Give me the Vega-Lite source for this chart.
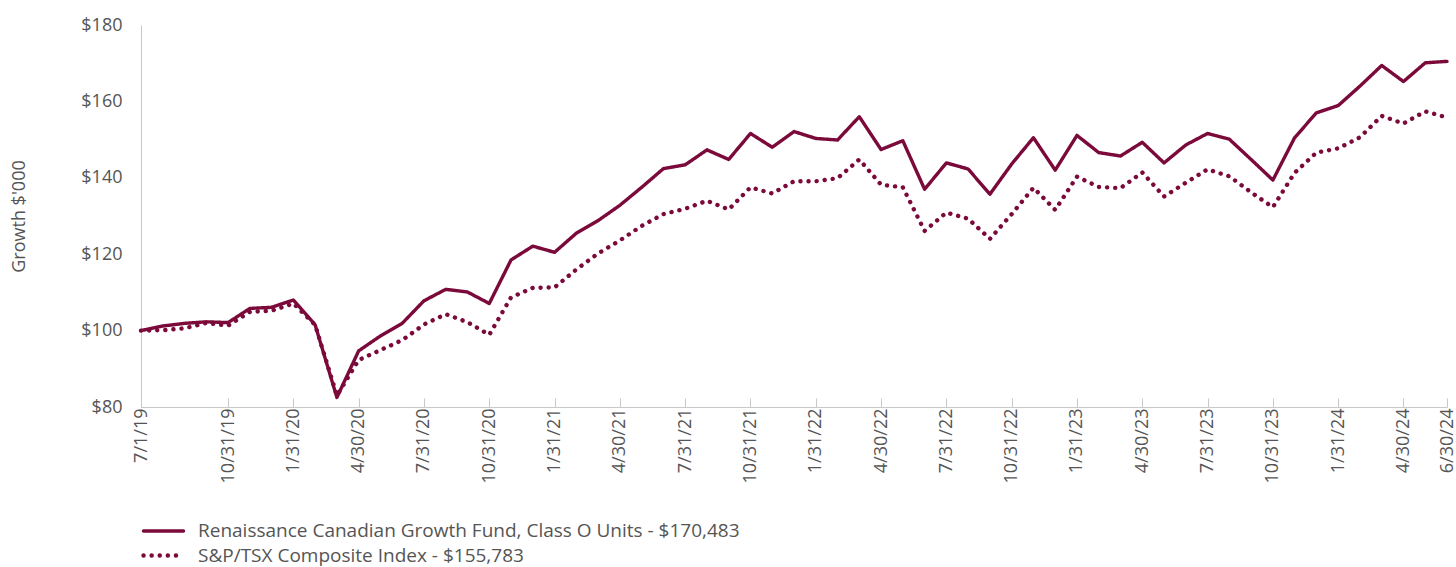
{
  "$schema": "https://vega.github.io/schema/vega-lite/v6.json",
  "width": 1306,
  "height": 382,
  "autosize": {"type": "none"},
  "padding": {"left": 141, "top": 25, "right": 9, "bottom": 160},
  "config": {"view": {"stroke": null}, "font": "Open Sans", "background": "white"},
  "datasets": {
    "growth": [
      {"date": "7/1/19", "series": "Renaissance Canadian Growth Fund, Class O Units - $170,483", "value": 100},
      {"date": "7/31/19", "series": "Renaissance Canadian Growth Fund, Class O Units - $170,483", "value": 101.2},
      {"date": "8/31/19", "series": "Renaissance Canadian Growth Fund, Class O Units - $170,483", "value": 101.9},
      {"date": "9/30/19", "series": "Renaissance Canadian Growth Fund, Class O Units - $170,483", "value": 102.3},
      {"date": "10/31/19", "series": "Renaissance Canadian Growth Fund, Class O Units - $170,483", "value": 102.1},
      {"date": "11/30/19", "series": "Renaissance Canadian Growth Fund, Class O Units - $170,483", "value": 105.8},
      {"date": "12/31/19", "series": "Renaissance Canadian Growth Fund, Class O Units - $170,483", "value": 106.1},
      {"date": "1/31/20", "series": "Renaissance Canadian Growth Fund, Class O Units - $170,483", "value": 108.0},
      {"date": "2/29/20", "series": "Renaissance Canadian Growth Fund, Class O Units - $170,483", "value": 101.5},
      {"date": "3/31/20", "series": "Renaissance Canadian Growth Fund, Class O Units - $170,483", "value": 82.5},
      {"date": "4/30/20", "series": "Renaissance Canadian Growth Fund, Class O Units - $170,483", "value": 94.7},
      {"date": "5/31/20", "series": "Renaissance Canadian Growth Fund, Class O Units - $170,483", "value": 98.6},
      {"date": "6/30/20", "series": "Renaissance Canadian Growth Fund, Class O Units - $170,483", "value": 101.9},
      {"date": "7/31/20", "series": "Renaissance Canadian Growth Fund, Class O Units - $170,483", "value": 107.8},
      {"date": "8/31/20", "series": "Renaissance Canadian Growth Fund, Class O Units - $170,483", "value": 110.8},
      {"date": "9/30/20", "series": "Renaissance Canadian Growth Fund, Class O Units - $170,483", "value": 110.1},
      {"date": "10/31/20", "series": "Renaissance Canadian Growth Fund, Class O Units - $170,483", "value": 107.1},
      {"date": "11/30/20", "series": "Renaissance Canadian Growth Fund, Class O Units - $170,483", "value": 118.5},
      {"date": "12/31/20", "series": "Renaissance Canadian Growth Fund, Class O Units - $170,483", "value": 122.1},
      {"date": "1/31/21", "series": "Renaissance Canadian Growth Fund, Class O Units - $170,483", "value": 120.5},
      {"date": "2/28/21", "series": "Renaissance Canadian Growth Fund, Class O Units - $170,483", "value": 125.5},
      {"date": "3/31/21", "series": "Renaissance Canadian Growth Fund, Class O Units - $170,483", "value": 128.8},
      {"date": "4/30/21", "series": "Renaissance Canadian Growth Fund, Class O Units - $170,483", "value": 132.8},
      {"date": "5/31/21", "series": "Renaissance Canadian Growth Fund, Class O Units - $170,483", "value": 137.5},
      {"date": "6/30/21", "series": "Renaissance Canadian Growth Fund, Class O Units - $170,483", "value": 142.4},
      {"date": "7/31/21", "series": "Renaissance Canadian Growth Fund, Class O Units - $170,483", "value": 143.4},
      {"date": "8/31/21", "series": "Renaissance Canadian Growth Fund, Class O Units - $170,483", "value": 147.3},
      {"date": "9/30/21", "series": "Renaissance Canadian Growth Fund, Class O Units - $170,483", "value": 144.8},
      {"date": "10/31/21", "series": "Renaissance Canadian Growth Fund, Class O Units - $170,483", "value": 151.6},
      {"date": "11/30/21", "series": "Renaissance Canadian Growth Fund, Class O Units - $170,483", "value": 148.0},
      {"date": "12/31/21", "series": "Renaissance Canadian Growth Fund, Class O Units - $170,483", "value": 152.1},
      {"date": "1/31/22", "series": "Renaissance Canadian Growth Fund, Class O Units - $170,483", "value": 150.3},
      {"date": "2/28/22", "series": "Renaissance Canadian Growth Fund, Class O Units - $170,483", "value": 149.9},
      {"date": "3/31/22", "series": "Renaissance Canadian Growth Fund, Class O Units - $170,483", "value": 156.0},
      {"date": "4/30/22", "series": "Renaissance Canadian Growth Fund, Class O Units - $170,483", "value": 147.4},
      {"date": "5/31/22", "series": "Renaissance Canadian Growth Fund, Class O Units - $170,483", "value": 149.7},
      {"date": "6/30/22", "series": "Renaissance Canadian Growth Fund, Class O Units - $170,483", "value": 137.0},
      {"date": "7/31/22", "series": "Renaissance Canadian Growth Fund, Class O Units - $170,483", "value": 143.9},
      {"date": "8/31/22", "series": "Renaissance Canadian Growth Fund, Class O Units - $170,483", "value": 142.3},
      {"date": "9/30/22", "series": "Renaissance Canadian Growth Fund, Class O Units - $170,483", "value": 135.7},
      {"date": "10/31/22", "series": "Renaissance Canadian Growth Fund, Class O Units - $170,483", "value": 143.6},
      {"date": "11/30/22", "series": "Renaissance Canadian Growth Fund, Class O Units - $170,483", "value": 150.5},
      {"date": "12/31/22", "series": "Renaissance Canadian Growth Fund, Class O Units - $170,483", "value": 142.0},
      {"date": "1/31/23", "series": "Renaissance Canadian Growth Fund, Class O Units - $170,483", "value": 151.1},
      {"date": "2/28/23", "series": "Renaissance Canadian Growth Fund, Class O Units - $170,483", "value": 146.6},
      {"date": "3/31/23", "series": "Renaissance Canadian Growth Fund, Class O Units - $170,483", "value": 145.7},
      {"date": "4/30/23", "series": "Renaissance Canadian Growth Fund, Class O Units - $170,483", "value": 149.3},
      {"date": "5/31/23", "series": "Renaissance Canadian Growth Fund, Class O Units - $170,483", "value": 143.9},
      {"date": "6/30/23", "series": "Renaissance Canadian Growth Fund, Class O Units - $170,483", "value": 148.6},
      {"date": "7/31/23", "series": "Renaissance Canadian Growth Fund, Class O Units - $170,483", "value": 151.6},
      {"date": "8/31/23", "series": "Renaissance Canadian Growth Fund, Class O Units - $170,483", "value": 150.1},
      {"date": "9/30/23", "series": "Renaissance Canadian Growth Fund, Class O Units - $170,483", "value": 144.8},
      {"date": "10/31/23", "series": "Renaissance Canadian Growth Fund, Class O Units - $170,483", "value": 139.4},
      {"date": "11/30/23", "series": "Renaissance Canadian Growth Fund, Class O Units - $170,483", "value": 150.5},
      {"date": "12/31/23", "series": "Renaissance Canadian Growth Fund, Class O Units - $170,483", "value": 157.0},
      {"date": "1/31/24", "series": "Renaissance Canadian Growth Fund, Class O Units - $170,483", "value": 158.9},
      {"date": "2/29/24", "series": "Renaissance Canadian Growth Fund, Class O Units - $170,483", "value": 164.0},
      {"date": "3/31/24", "series": "Renaissance Canadian Growth Fund, Class O Units - $170,483", "value": 169.4},
      {"date": "4/30/24", "series": "Renaissance Canadian Growth Fund, Class O Units - $170,483", "value": 165.2},
      {"date": "5/31/24", "series": "Renaissance Canadian Growth Fund, Class O Units - $170,483", "value": 170.1},
      {"date": "6/30/24", "series": "Renaissance Canadian Growth Fund, Class O Units - $170,483", "value": 170.483},
      {"date": "7/1/19", "series": "S&P/TSX Composite Index - $155,783", "value": 100},
      {"date": "7/31/19", "series": "S&P/TSX Composite Index - $155,783", "value": 100.1},
      {"date": "8/31/19", "series": "S&P/TSX Composite Index - $155,783", "value": 100.6},
      {"date": "9/30/19", "series": "S&P/TSX Composite Index - $155,783", "value": 102.0},
      {"date": "10/31/19", "series": "S&P/TSX Composite Index - $155,783", "value": 101.3},
      {"date": "11/30/19", "series": "S&P/TSX Composite Index - $155,783", "value": 104.9},
      {"date": "12/31/19", "series": "S&P/TSX Composite Index - $155,783", "value": 105.2},
      {"date": "1/31/20", "series": "S&P/TSX Composite Index - $155,783", "value": 107.1},
      {"date": "2/29/20", "series": "S&P/TSX Composite Index - $155,783", "value": 101.5},
      {"date": "3/31/20", "series": "S&P/TSX Composite Index - $155,783", "value": 83.0},
      {"date": "4/30/20", "series": "S&P/TSX Composite Index - $155,783", "value": 92.3},
      {"date": "5/31/20", "series": "S&P/TSX Composite Index - $155,783", "value": 94.9},
      {"date": "6/30/20", "series": "S&P/TSX Composite Index - $155,783", "value": 97.5},
      {"date": "7/31/20", "series": "S&P/TSX Composite Index - $155,783", "value": 101.6},
      {"date": "8/31/20", "series": "S&P/TSX Composite Index - $155,783", "value": 104.3},
      {"date": "9/30/20", "series": "S&P/TSX Composite Index - $155,783", "value": 102.2},
      {"date": "10/31/20", "series": "S&P/TSX Composite Index - $155,783", "value": 98.9},
      {"date": "11/30/20", "series": "S&P/TSX Composite Index - $155,783", "value": 108.7},
      {"date": "12/31/20", "series": "S&P/TSX Composite Index - $155,783", "value": 111.2},
      {"date": "1/31/21", "series": "S&P/TSX Composite Index - $155,783", "value": 111.3},
      {"date": "2/28/21", "series": "S&P/TSX Composite Index - $155,783", "value": 116.0},
      {"date": "3/31/21", "series": "S&P/TSX Composite Index - $155,783", "value": 120.2},
      {"date": "4/30/21", "series": "S&P/TSX Composite Index - $155,783", "value": 123.6},
      {"date": "5/31/21", "series": "S&P/TSX Composite Index - $155,783", "value": 127.4},
      {"date": "6/30/21", "series": "S&P/TSX Composite Index - $155,783", "value": 130.5},
      {"date": "7/31/21", "series": "S&P/TSX Composite Index - $155,783", "value": 131.9},
      {"date": "8/31/21", "series": "S&P/TSX Composite Index - $155,783", "value": 134.0},
      {"date": "9/30/21", "series": "S&P/TSX Composite Index - $155,783", "value": 131.7},
      {"date": "10/31/21", "series": "S&P/TSX Composite Index - $155,783", "value": 137.5},
      {"date": "11/30/21", "series": "S&P/TSX Composite Index - $155,783", "value": 135.9},
      {"date": "12/31/21", "series": "S&P/TSX Composite Index - $155,783", "value": 139.1},
      {"date": "1/31/22", "series": "S&P/TSX Composite Index - $155,783", "value": 139.1},
      {"date": "2/28/22", "series": "S&P/TSX Composite Index - $155,783", "value": 139.9},
      {"date": "3/31/22", "series": "S&P/TSX Composite Index - $155,783", "value": 144.8},
      {"date": "4/30/22", "series": "S&P/TSX Composite Index - $155,783", "value": 138.2},
      {"date": "5/31/22", "series": "S&P/TSX Composite Index - $155,783", "value": 137.5},
      {"date": "6/30/22", "series": "S&P/TSX Composite Index - $155,783", "value": 126.1},
      {"date": "7/31/22", "series": "S&P/TSX Composite Index - $155,783", "value": 130.9},
      {"date": "8/31/22", "series": "S&P/TSX Composite Index - $155,783", "value": 129.3},
      {"date": "9/30/22", "series": "S&P/TSX Composite Index - $155,783", "value": 124.0},
      {"date": "10/31/22", "series": "S&P/TSX Composite Index - $155,783", "value": 130.5},
      {"date": "11/30/22", "series": "S&P/TSX Composite Index - $155,783", "value": 137.4},
      {"date": "12/31/22", "series": "S&P/TSX Composite Index - $155,783", "value": 131.6},
      {"date": "1/31/23", "series": "S&P/TSX Composite Index - $155,783", "value": 140.3},
      {"date": "2/28/23", "series": "S&P/TSX Composite Index - $155,783", "value": 137.6},
      {"date": "3/31/23", "series": "S&P/TSX Composite Index - $155,783", "value": 137.3},
      {"date": "4/30/23", "series": "S&P/TSX Composite Index - $155,783", "value": 141.4},
      {"date": "5/31/23", "series": "S&P/TSX Composite Index - $155,783", "value": 135.1},
      {"date": "6/30/23", "series": "S&P/TSX Composite Index - $155,783", "value": 138.7},
      {"date": "7/31/23", "series": "S&P/TSX Composite Index - $155,783", "value": 142.2},
      {"date": "8/31/23", "series": "S&P/TSX Composite Index - $155,783", "value": 140.4},
      {"date": "9/30/23", "series": "S&P/TSX Composite Index - $155,783", "value": 136.2},
      {"date": "10/31/23", "series": "S&P/TSX Composite Index - $155,783", "value": 132.3},
      {"date": "11/30/23", "series": "S&P/TSX Composite Index - $155,783", "value": 141.3},
      {"date": "12/31/23", "series": "S&P/TSX Composite Index - $155,783", "value": 146.6},
      {"date": "1/31/24", "series": "S&P/TSX Composite Index - $155,783", "value": 147.7},
      {"date": "2/29/24", "series": "S&P/TSX Composite Index - $155,783", "value": 150.6},
      {"date": "3/31/24", "series": "S&P/TSX Composite Index - $155,783", "value": 156.2},
      {"date": "4/30/24", "series": "S&P/TSX Composite Index - $155,783", "value": 154.2},
      {"date": "5/31/24", "series": "S&P/TSX Composite Index - $155,783", "value": 157.4},
      {"date": "6/30/24", "series": "S&P/TSX Composite Index - $155,783", "value": 155.783}
    ]
  },
  "data": {"name": "growth"},
  "mark": {"type": "line", "strokeCap": "round", "strokeJoin": "round"},
  "encoding": {
    "x": {
      "field": "date",
      "type": "ordinal",
      "sort": null,
      "scale": {"type": "point", "padding": 0},
      "axis": {
        "title": null,
        "values": ["7/1/19", "10/31/19", "1/31/20", "4/30/20", "7/31/20", "10/31/20", "1/31/21", "4/30/21", "7/31/21", "10/31/21", "1/31/22", "4/30/22", "7/31/22", "10/31/22", "1/31/23", "4/30/23", "7/31/23", "10/31/23", "1/31/24", "4/30/24", "6/30/24"],
        "labelAngle": -90,
        "labelFontSize": 18,
        "labelColor": "#555555",
        "labelPadding": 10,
        "domainColor": "#c8c8c8",
        "tickColor": "#c8c8c8",
        "tickSize": -9,
        "grid": false
      }
    },
    "y": {
      "field": "value",
      "type": "quantitative",
      "scale": {"domain": [80, 180], "nice": false, "zero": false},
      "axis": {
        "values": [80, 100, 120, 140, 160, 180],
        "format": "$.0f",
        "title": "Growth $'000",
        "titleFontSize": 18,
        "titleFontWeight": "normal",
        "titleColor": "#555555",
        "titlePadding": 52,
        "labelFontSize": 18,
        "labelColor": "#555555",
        "labelPadding": 19,
        "ticks": false,
        "grid": false,
        "domainColor": "#c8c8c8"
      }
    },
    "strokeWidth": {
      "field": "series",
      "type": "nominal",
      "scale": {"domain": ["Renaissance Canadian Growth Fund, Class O Units - $170,483", "S&P/TSX Composite Index - $155,783"], "range": [3.4, 4.4]},
      "legend": null
    },
    "color": {
      "field": "series",
      "type": "nominal",
      "scale": {"domain": ["Renaissance Canadian Growth Fund, Class O Units - $170,483", "S&P/TSX Composite Index - $155,783"], "range": ["#7b0a3b", "#7b0a3b"]},
      "legend": {
        "title": null,
        "orient": "none",
        "legendX": 10,
        "legendY": 494,
        "symbolType": "M-2,0H2",
        "symbolSize": 400,
        "symbolStrokeWidth": 4,
        "labelFontSize": 19,
        "labelColor": "#555555",
        "labelOffset": 22,
        "rowPadding": 2,
        "labelLimit": 800,
        "encoding": {"symbols": {"strokeCap": {"value": "round"}}}
      }
    },
    "strokeDash": {
      "field": "series",
      "type": "nominal",
      "scale": {"domain": ["Renaissance Canadian Growth Fund, Class O Units - $170,483", "S&P/TSX Composite Index - $155,783"], "range": [[1, 0], [0.1, 8]]},
      "legend": {
        "title": null,
        "orient": "none",
        "legendX": 10,
        "legendY": 494,
        "symbolType": "M-2,0H2",
        "symbolSize": 400,
        "symbolStrokeWidth": 4,
        "labelFontSize": 19,
        "labelColor": "#555555",
        "labelOffset": 22,
        "rowPadding": 2,
        "labelLimit": 800,
        "encoding": {"symbols": {"strokeCap": {"value": "round"}}}
      }
    }
  }
}
